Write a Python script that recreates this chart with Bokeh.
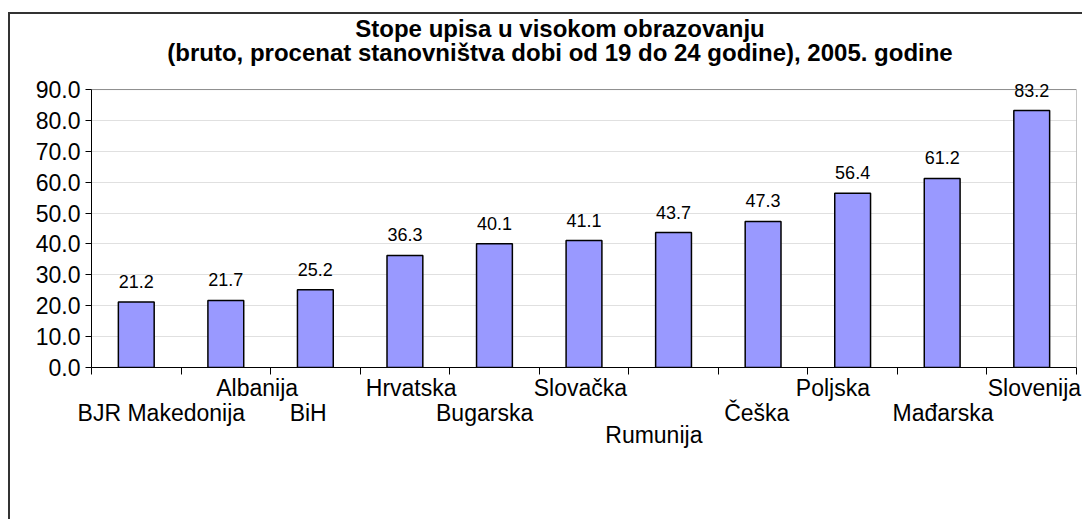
from bokeh.plotting import figure
from bokeh.layouts import column
from bokeh.models import (ColumnDataSource, LabelSet, Label, Range1d, FixedTicker, PrintfTickFormatter,
                          LinearAxis, CustomJSTickFormatter)
from bokeh.core.properties import value
from bokeh.embed import file_html
from bokeh.resources import INLINE

# ---- data ----
countries = ["BJR Makedonija", "Albanija", "BiH", "Hrvatska", "Bugarska", "Slovačka",
             "Rumunija", "Češka", "Poljska", "Mađarska", "Slovenija"]
values = [21.2, 21.7, 25.2, 36.3, 40.1, 41.1, 43.7, 47.3, 56.4, 61.2, 83.2]
value_labels = ["21.2", "21.7", "25.2", "36.3", "40.1", "41.1", "43.7", "47.3", "56.4", "61.2", "83.2"]
y_ticks = [0, 10, 20, 30, 40, 50, 60, 70, 80, 90]
title_line1 = "Stope upisa u visokom obrazovanju"
title_line2 = "(bruto, procenat stanovništva dobi od 19 do 24 godine), 2005. godine"

# ---- layout (staggered category labels, as in the original) ----
label_row = [2, 1, 2, 1, 2, 1, 3, 2, 1, 2, 1]
label_dx = [0.28, 0.35, -0.08, 0.07, -0.11, -0.04, -0.22, -0.07, -0.22, 0.01, 0.03]
row_standoff = {1: 0, 2: -4, 3: -7}

FONT = "Liberation Sans"
n = len(countries)
xc = [i + 0.5 for i in range(n)]
ymax = y_ticks[-1]

# the frame reaches the top of the canvas so the title can sit inside it
p = figure(width=1072, height=505, output_backend="svg", toolbar_location=None, title=None,
           x_range=Range1d(0, n), y_range=Range1d(0, ymax * 1.27),
           min_border_left=81, min_border_right=6, min_border_top=0, min_border_bottom=152)
p.background_fill_color = "white"
p.border_fill_color = "white"
p.outline_line_color = None

src = ColumnDataSource(dict(x=xc, top=values, lbl=value_labels))

# plot-area border (top and right), grey as in the original
p.segment(x0=[0, n], y0=[ymax, 0], x1=[n, n], y1=[ymax, ymax], line_color="#8c8c8c", line_width=1)

p.vbar(x="x", top="top", width=0.4, bottom=0, source=src,
       fill_color="#9999FF", line_color="black", line_width=1.5)

# value labels
p.add_layout(LabelSet(x="x", y="top", text="lbl", source=src, y_offset=14,
                      text_align="center", text_baseline="alphabetic",
                      text_font=value(FONT), text_font_size=value("18px"), text_color="black"))

# axes
p.xaxis.ticker = FixedTicker(ticks=list(range(n + 1)))
p.xaxis.formatter = CustomJSTickFormatter(code='return "";')
p.xaxis.major_label_text_font_size = "0px"
p.xaxis.major_label_standoff = 0
p.xaxis.major_tick_in = 0
p.xaxis.major_tick_out = 7
p.xaxis.minor_tick_line_color = None
p.xaxis.axis_line_color = "black"
p.xaxis.major_tick_line_color = "black"

p.yaxis.ticker = FixedTicker(ticks=y_ticks)
p.yaxis.bounds = (0, ymax)
p.yaxis.formatter = PrintfTickFormatter(format="%.1f")
p.yaxis.major_label_text_font = FONT
p.yaxis.major_label_text_font_size = "23px"
p.yaxis.major_label_text_color = "black"
p.yaxis.major_tick_in = 0
p.yaxis.major_tick_out = 6
p.yaxis.major_label_standoff = 5
p.yaxis.minor_tick_line_color = None
p.yaxis.axis_line_color = "black"
p.yaxis.major_tick_line_color = "black"

p.xgrid.grid_line_color = None
p.ygrid.grid_line_color = "#e0e0e0"
p.ygrid.grid_line_width = 1

# staggered category labels: one label-only axis per row
for r in (1, 2, 3):
    idx = [i for i in range(n) if label_row[i] == r]
    pos = [xc[i] + label_dx[i] for i in idx]
    names = [countries[i] for i in idx]
    fmt = CustomJSTickFormatter(args=dict(pos=pos, names=names), code="""
        for (let i = 0; i < pos.length; i++) {
            if (Math.abs(tick - pos[i]) < 1e-6) { return names[i]; }
        }
        return "";
    """)
    ax = LinearAxis(ticker=FixedTicker(ticks=pos), formatter=fmt,
                    axis_line_color=None, major_tick_line_color=None, minor_tick_line_color=None,
                    major_tick_in=0, major_tick_out=0, major_label_standoff=row_standoff[r],
                    major_label_text_font=FONT, major_label_text_font_size="23px",
                    major_label_text_color="black")
    p.add_layout(ax, "below")

# title (two lines), placed above the plot area
p.add_layout(Label(x=n / 2, y=ymax, x_offset=-24, y_offset=61, text=title_line1,
                   text_align="center", text_baseline="middle",
                   text_font=FONT, text_font_size="24px", text_font_style="bold", text_color="black"))
p.add_layout(Label(x=n / 2, y=ymax, x_offset=-24, y_offset=37, text=title_line2,
                   text_align="center", text_baseline="middle",
                   text_font=FONT, text_font_size="24px", text_font_style="bold", text_color="black"))

# outer chart-area border (only its left and top edges fall inside the window)
root = column(p, styles={"border-left": "2px solid #333333", "border-top": "2px solid #333333",
                         "margin-top": "12px", "margin-left": "8px"})

open("out.html", "w").write(file_html(root, INLINE))
